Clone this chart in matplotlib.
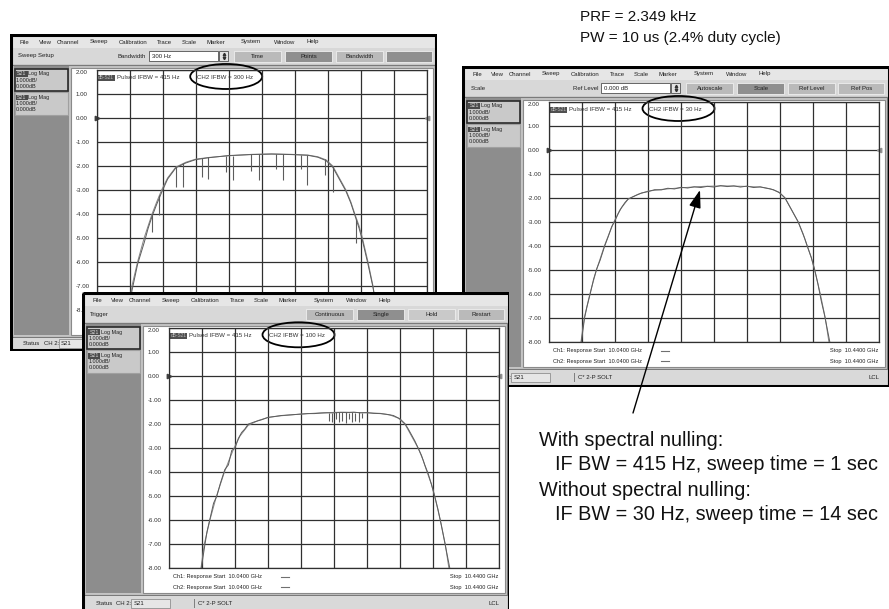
#!/usr/bin/env python3
import matplotlib
matplotlib.use("Agg")
import matplotlib.pyplot as plt
from matplotlib.patches import Rectangle, Ellipse
from matplotlib.ticker import MultipleLocator, FormatStrFormatter

FIG_W, FIG_H = 889, 609
plt.rcParams["font.family"] = ["Liberation Sans", "DejaVu Sans"]

# sweep settings shown on the analyzer screens
F_START, F_STOP = 10.04, 10.44      # GHz
DB_TOP, DB_BOTTOM = 2.0, -8.0       # 1 dB/div

# Ch1: pulsed S21, IFBW 415 Hz with spectral nulling
CH1_FREQ = [10.0760, 10.0788, 10.0828, 10.0896, 10.0976, 10.1024, 10.1072, 10.1128,
            10.1188, 10.1260, 10.1360, 10.1480, 10.1600, 10.1760, 10.2000, 10.2280,
            10.2520, 10.2760, 10.2960, 10.3080, 10.3180, 10.3260, 10.3340, 10.3420,
            10.3480, 10.3528, 10.3580, 10.3620, 10.3688, 10.3748, 10.3792, 10.3820]
CH1_DB = [-8.7, -8.0, -7.0, -6.0, -5.0, -4.5, -4.0, -3.5,
          -3.0, -2.5, -2.05, -1.85, -1.72, -1.65, -1.58, -1.52,
          -1.50, -1.52, -1.55, -1.62, -1.75, -2.0, -2.5, -3.0,
          -3.5, -4.0, -4.5, -5.0, -6.0, -7.0, -8.0, -8.7]

# Ch2 with IFBW = 300 Hz (no nulling): base curve + the PRF line spikes
CH2_300_DB = [-8.7, -8.1, -7.2, -6.1, -5.2, -4.6, -4.1, -3.6,
              -3.1, -2.55, -2.08, -1.88, -1.74, -1.66, -1.57, -1.53,
              -1.51, -1.53, -1.56, -1.64, -1.78, -2.05, -2.55, -3.05,
              -3.55, -4.05, -4.6, -5.1, -6.1, -7.05, -8.0, -8.7]
SPIKES_300_FREQ = [10.1068, 10.1160, 10.1360, 10.1440, 10.1680, 10.1752, 10.1972, 10.2056,
                   10.2276, 10.2372, 10.2572, 10.2656, 10.2880, 10.2952, 10.3168, 10.3260,
                   10.3548]
SPIKES_300_TOP = [-4.05, -3.2, -2.05, -1.88, -1.68, -1.65, -1.58, -1.57,
                  -1.52, -1.52, -1.50, -1.51, -1.53, -1.55, -1.73, -2.0,
                  -4.2]
SPIKES_300_BOTTOM = [-4.75, -4.05, -2.9, -2.9, -2.45, -2.55, -2.25, -2.6,
                     -2.2, -2.6, -2.12, -2.6, -2.15, -2.8, -2.4, -3.1,
                     -5.2]

# Ch2 with IFBW = 30 Hz and 100 Hz (denser, a bit of trace noise)
CH2_FREQ = [10.0760, 10.0792, 10.0832, 10.0860, 10.0900, 10.0940, 10.0980, 10.1020,
            10.1076, 10.1120, 10.1160, 10.1200, 10.1240, 10.1280, 10.1320, 10.1360,
            10.144, 10.152, 10.160, 10.168, 10.176, 10.184, 10.192, 10.200,
            10.208, 10.216, 10.224, 10.232, 10.240, 10.248, 10.256, 10.264,
            10.272, 10.280, 10.288, 10.296, 10.304, 10.312, 10.320,
            10.326, 10.330, 10.334, 10.338, 10.342, 10.346, 10.350, 10.354,
            10.358, 10.362, 10.366, 10.370, 10.374, 10.378, 10.382]
CH2_30_DB = [-8.7, -8.0, -7.0, -6.55, -6.0, -5.4, -4.95, -4.6,
             -4.0, -3.6, -3.2, -2.95, -2.65, -2.4, -2.2, -2.05,
             -1.92, -1.80, -1.74, -1.66, -1.67, -1.60, -1.63, -1.56,
             -1.59, -1.54, -1.57, -1.52, -1.55, -1.49, -1.53, -1.50,
             -1.55, -1.51, -1.57, -1.54, -1.60, -1.66, -1.80,
             -2.0, -2.25, -2.5, -2.75, -3.0, -3.35, -3.7, -4.1,
             -4.5, -5.0, -5.6, -6.3, -6.9, -7.6, -8.3]
CH2_100_DB = [-8.7, -8.0, -7.1, -6.5, -5.9, -5.3, -5.0, -4.5,
              -3.9, -3.7, -3.1, -3.0, -2.6, -2.35, -2.2, -2.0,
              -1.90, -1.82, -1.72, -1.68, -1.64, -1.62, -1.60, -1.58,
              -1.56, -1.56, -1.54, -1.53, -1.53, -1.51, -1.52, -1.50,
              -1.53, -1.52, -1.55, -1.56, -1.59, -1.64, -1.78,
              -1.98, -2.2, -2.45, -2.7, -3.0, -3.3, -3.7, -4.05,
              -4.5, -5.0, -5.55, -6.2, -6.9, -7.6, -8.3]
SPIKES_100_FREQ = [10.234, 10.238, 10.242, 10.246, 10.250, 10.254,
                   10.258, 10.262, 10.266, 10.270, 10.274]
SPIKES_100_TOP = [-1.52, -1.53, -1.50, -1.51, -1.49, -1.50,
                  -1.52, -1.50, -1.53, -1.51, -1.54]
SPIKES_100_BOTTOM = [-1.85, -1.90, -1.78, -1.92, -1.85, -1.95,
                     -1.80, -1.93, -1.86, -1.90, -1.75]

MENU_ITEMS = ["File", "View", "Channel", "Sweep", "Calibration", "Trace",
              "Scale", "Marker", "System", "Window", "Help"]
MENU_X = [14.7, 35.3, 57.7, 88.8, 122.7, 154.7, 179.3, 206, 241, 274.3, 302.2]
BUTTON_X = [(224, 271), (275, 322), (326, 373), (376, 422)]

LIGHT, DARK = "#bababa", "#8f8f8f"
TRACE_COL = "#5c5c5c"
GRID_COL = "#303030"
UI_SIZE = 4.3

WINDOWS = [
    # back-left window: its bottom strip is hidden under the front window
    dict(x=10.0, y=34.0, h=317, tool="Sweep Setup", entry=("Bandwidth", "300 Hz"),
         buttons=[("Time", LIGHT), ("Points", DARK), ("Bandwidth", LIGHT), ("", DARK)],
         ifbw="CH2 IFBW = 300 Hz", ch2=(CH1_FREQ, CH2_300_DB),
         spikes=(SPIKES_300_FREQ, SPIKES_300_TOP, SPIKES_300_BOTTOM), sweep_info=False),
    dict(x=462.3, y=66.0, h=321, tool="Scale", entry=("Ref Level", "0.000 dB"),
         buttons=[("Autoscale", LIGHT), ("Scale", DARK), ("Ref Level", LIGHT), ("Ref Pos", LIGHT)],
         ifbw="CH2 IFBW = 30 Hz", ch2=(CH2_FREQ, CH2_30_DB), spikes=None, sweep_info=True),
    dict(x=82.3, y=292.3, h=320, tool="Trigger", entry=None,
         buttons=[("Continuous", LIGHT), ("Single", DARK), ("Hold", "#c9c9c9"), ("Restart", LIGHT)],
         ifbw="CH2 IFBW = 100 Hz", ch2=(CH2_FREQ, CH2_100_DB),
         spikes=(SPIKES_100_FREQ, SPIKES_100_TOP, SPIKES_100_BOTTOM), sweep_info=True),
]

fig = plt.figure(figsize=(FIG_W / 100, FIG_H / 100), dpi=100)
fig.patch.set_facecolor("white")
grid_axes = []


def draw_window(spec, z):
    L, T, H = spec["x"], spec["y"], spec["h"]
    W = 427
    gx, gy, gw, gh = 86.7, 36.0, 330.0, 239.6
    gb = gy + gh

    ax = fig.add_axes([L / FIG_W, 1 - (T + H) / FIG_H, W / FIG_W, H / FIG_H], zorder=z)
    ax.set_xlim(0, W)
    ax.set_ylim(H, 0)
    ax.axis("off")

    def box(x, y, w, h, **kw):
        kw.setdefault("ec", "none")
        ax.add_patch(Rectangle((x, y), w, h, **kw))

    def txt(x, y, s, **kw):
        kw.setdefault("fontsize", UI_SIZE)
        kw.setdefault("va", "center")
        kw.setdefault("color", "#202020")
        ax.text(x, y, s, **kw)

    box(0, 0, W, H, fc="#cdcdcd")
    # menu bar
    box(1.5, 1.5, W - 3, 12.5, fc="#e6e6e6")
    for name, mx in zip(MENU_ITEMS, MENU_X):
        txt(mx, 8, name, ha="center")
    # toolbar
    box(1.5, 14, W - 3, 16, fc="#d8d8d8")
    txt(8, 22, spec["tool"])
    if spec["entry"]:
        label, val = spec["entry"]
        txt(136, 22, label, ha="right")
        box(139, 17, 69, 10, fc="white", ec="#505050", lw=0.6)
        txt(142, 22, val)
        box(209, 17, 9, 10, fc="#e4e4e4", ec="#505050", lw=0.6)
        ax.plot([213.5], [19.8], marker="^", ms=1.8, color="#303030")
        ax.plot([213.5], [24.4], marker="v", ms=1.8, color="#303030")
    for (bx0, bx1), (label, shade) in zip(BUTTON_X, spec["buttons"]):
        box(bx0, 16.5, bx1 - bx0, 11.5, fc=shade, ec="#efefef", lw=0.6)
        txt((bx0 + bx1) / 2, 22.3, label, ha="center")

    # channel panel
    box(2, 30.5, W - 4, gb + 27 - 30.5, fc="#c4c4c4", ec="#7a7a7a", lw=0.8)
    box(3.5, 32, 55, gb + 25 - 32, fc="#8d8d8d")
    for i, y0 in enumerate([34.5, 58.0]):
        box(4.5, y0, 53, 22.5, fc="#c9c9c9",
            ec="#2a2a2a" if i == 0 else "#a0a0a0", lw=1.2 if i == 0 else 0.8)
        box(6, y0 + 2.5, 11.5, 5.8, fc="#4a4a4a")
        txt(11.8, y0 + 5.4, "S21", color="#d8d8d8", ha="center", fontsize=3.8)
        txt(18.5, y0 + 5.4, "Log Mag", fontsize=3.9)
        txt(6, y0 + 11.6, "1.000dB/", fontsize=3.9)
        txt(6, y0 + 17.6, "0.000dB", fontsize=3.9)

    # white display area
    box(60.5, 33.5, 362, gb + 25 - 33.5, fc="white", ec="#8a8a8a", lw=0.8)

    if spec["sweep_info"]:
        for k, yy in enumerate([gb + 9, gb + 19.5]):
            txt(gx + 4, yy, f"Ch{k + 1}: Response Start  {F_START:.4f} GHz", fontsize=4.1)
            ax.plot([gx + 112, gx + 120], [yy, yy], color="#707070", lw=0.8)
            txt(gx + gw - 1, yy, f"Stop  {F_STOP:.4f} GHz", ha="right", fontsize=4.1)

    # status bar
    box(2, gb + 28, W - 4, H - gb - 30, fc="#d9d9d9")
    sy = (gb + 28 + H - 2) / 2
    txt(13, sy, "Status")
    txt(34, sy, "CH 2:")
    box(49, sy - 4.5, 39, 9, fc="#e6e6e6", ec="#808080", lw=0.5)
    txt(51, sy, "S21")
    box(112, sy - 4.5, 0.6, 9, fc="#808080")
    txt(116, sy, "C* 2-P SOLT")
    txt(406, sy, "LCL")

    ax.add_patch(Rectangle((0.8, 0.8), W - 1.6, H - 1.6, fc="none", ec="black", lw=2.2))

    # measurement grid
    gax = fig.add_axes([(L + gx) / FIG_W, 1 - (T + gb) / FIG_H, gw / FIG_W, gh / FIG_H],
                       zorder=z + 0.5)
    gax.set_facecolor("none")
    gax.set_xlim(F_START, F_STOP)
    gax.set_ylim(DB_BOTTOM, DB_TOP)
    gax.xaxis.set_major_locator(MultipleLocator(0.04))
    gax.yaxis.set_major_locator(MultipleLocator(1.0))
    gax.yaxis.set_major_formatter(FormatStrFormatter("%.2f"))
    gax.tick_params(length=0, labelbottom=False, labelsize=4.4, pad=15.2,
                    labelcolor="#303030")
    for lab in gax.get_yticklabels():
        lab.set_ha("left")
    gax.grid(True, color=GRID_COL, lw=0.9)
    for sp in gax.spines.values():
        sp.set_color(GRID_COL)
        sp.set_linewidth(0.9)

    gax.plot(CH1_FREQ, CH1_DB, color="#858585", lw=0.7)
    f2, d2 = spec["ch2"]
    gax.plot(f2, d2, color=TRACE_COL, lw=0.7)
    if spec["spikes"]:
        sf, st, sb = spec["spikes"]
        gax.vlines(sf, st, sb, color=TRACE_COL, lw=0.8)

    gax.plot([F_START], [0], marker=">", ms=3.2, color="#404040", clip_on=False)
    gax.plot([F_STOP], [0], marker="<", ms=3.2, color="#909090", clip_on=False)

    # trace title line + the circled Ch2 IF bandwidth
    tr = ax.transData
    gax.add_patch(Rectangle((gx + 0.6, gy + 4.5), 17.5, 6, fc="#505050", ec="none",
                            transform=tr, clip_on=False))
    gax.text(gx + 9.3, gy + 7.5, "dB-S21", transform=tr, fontsize=3.4, color="#bdbdbd",
             ha="center", va="center")
    gax.text(gx + 20, gy + 7.5, "Pulsed IFBW = 415 Hz", transform=tr, fontsize=4.4,
             color="#303030", va="center")
    gax.text(gx + 100, gy + 7.5, spec["ifbw"], transform=tr, fontsize=4.4,
             color="#303030", va="center")
    gax.add_patch(Ellipse((gx + 129.5, gy + 6.5), 72, 25, fill=False, ec="black", lw=1.3,
                          transform=tr, clip_on=False))
    grid_axes.append(gax)


for i, spec in enumerate(WINDOWS):
    draw_window(spec, 1 + 2 * i)

# overlay: pulse info, arrow and notes
ov = fig.add_axes([0, 0, 1, 1], zorder=20)
ov.set_xlim(0, FIG_W)
ov.set_ylim(FIG_H, 0)
ov.axis("off")

ov.text(580, 16.7, "PRF = 2.349 kHz", fontsize=11, va="center", color="#111111")
ov.text(580, 38.3, "PW = 10 us (2.4% duty cycle)", fontsize=11, va="center", color="#111111")

ov.annotate("", xy=(700, 190), xytext=(633, 413),
            arrowprops=dict(arrowstyle="-|>,head_length=0.9,head_width=0.3",
                            color="black", lw=1.0, mutation_scale=12,
                            shrinkA=0, shrinkB=0))

notes = [(539, 440, "With spectral nulling:"),
         (555, 465, "IF BW = 415 Hz, sweep time = 1 sec"),
         (539, 490, "Without spectral nulling:"),
         (555, 515, "IF BW = 30 Hz, sweep time = 14 sec")]
for nx, ny, s in notes:
    ov.text(nx, ny, s, fontsize=14.3, va="center", color="#111111")

# the top scale label sits just under the top graticule line on the PNA screen
fig.canvas.draw()
for gax in grid_axes:
    for tick in gax.yaxis.get_major_ticks():
        if abs(tick.get_loc() - DB_TOP) < 1e-6:
            tick.label1.set_va("top")

fig.savefig("out.png", dpi=100)
